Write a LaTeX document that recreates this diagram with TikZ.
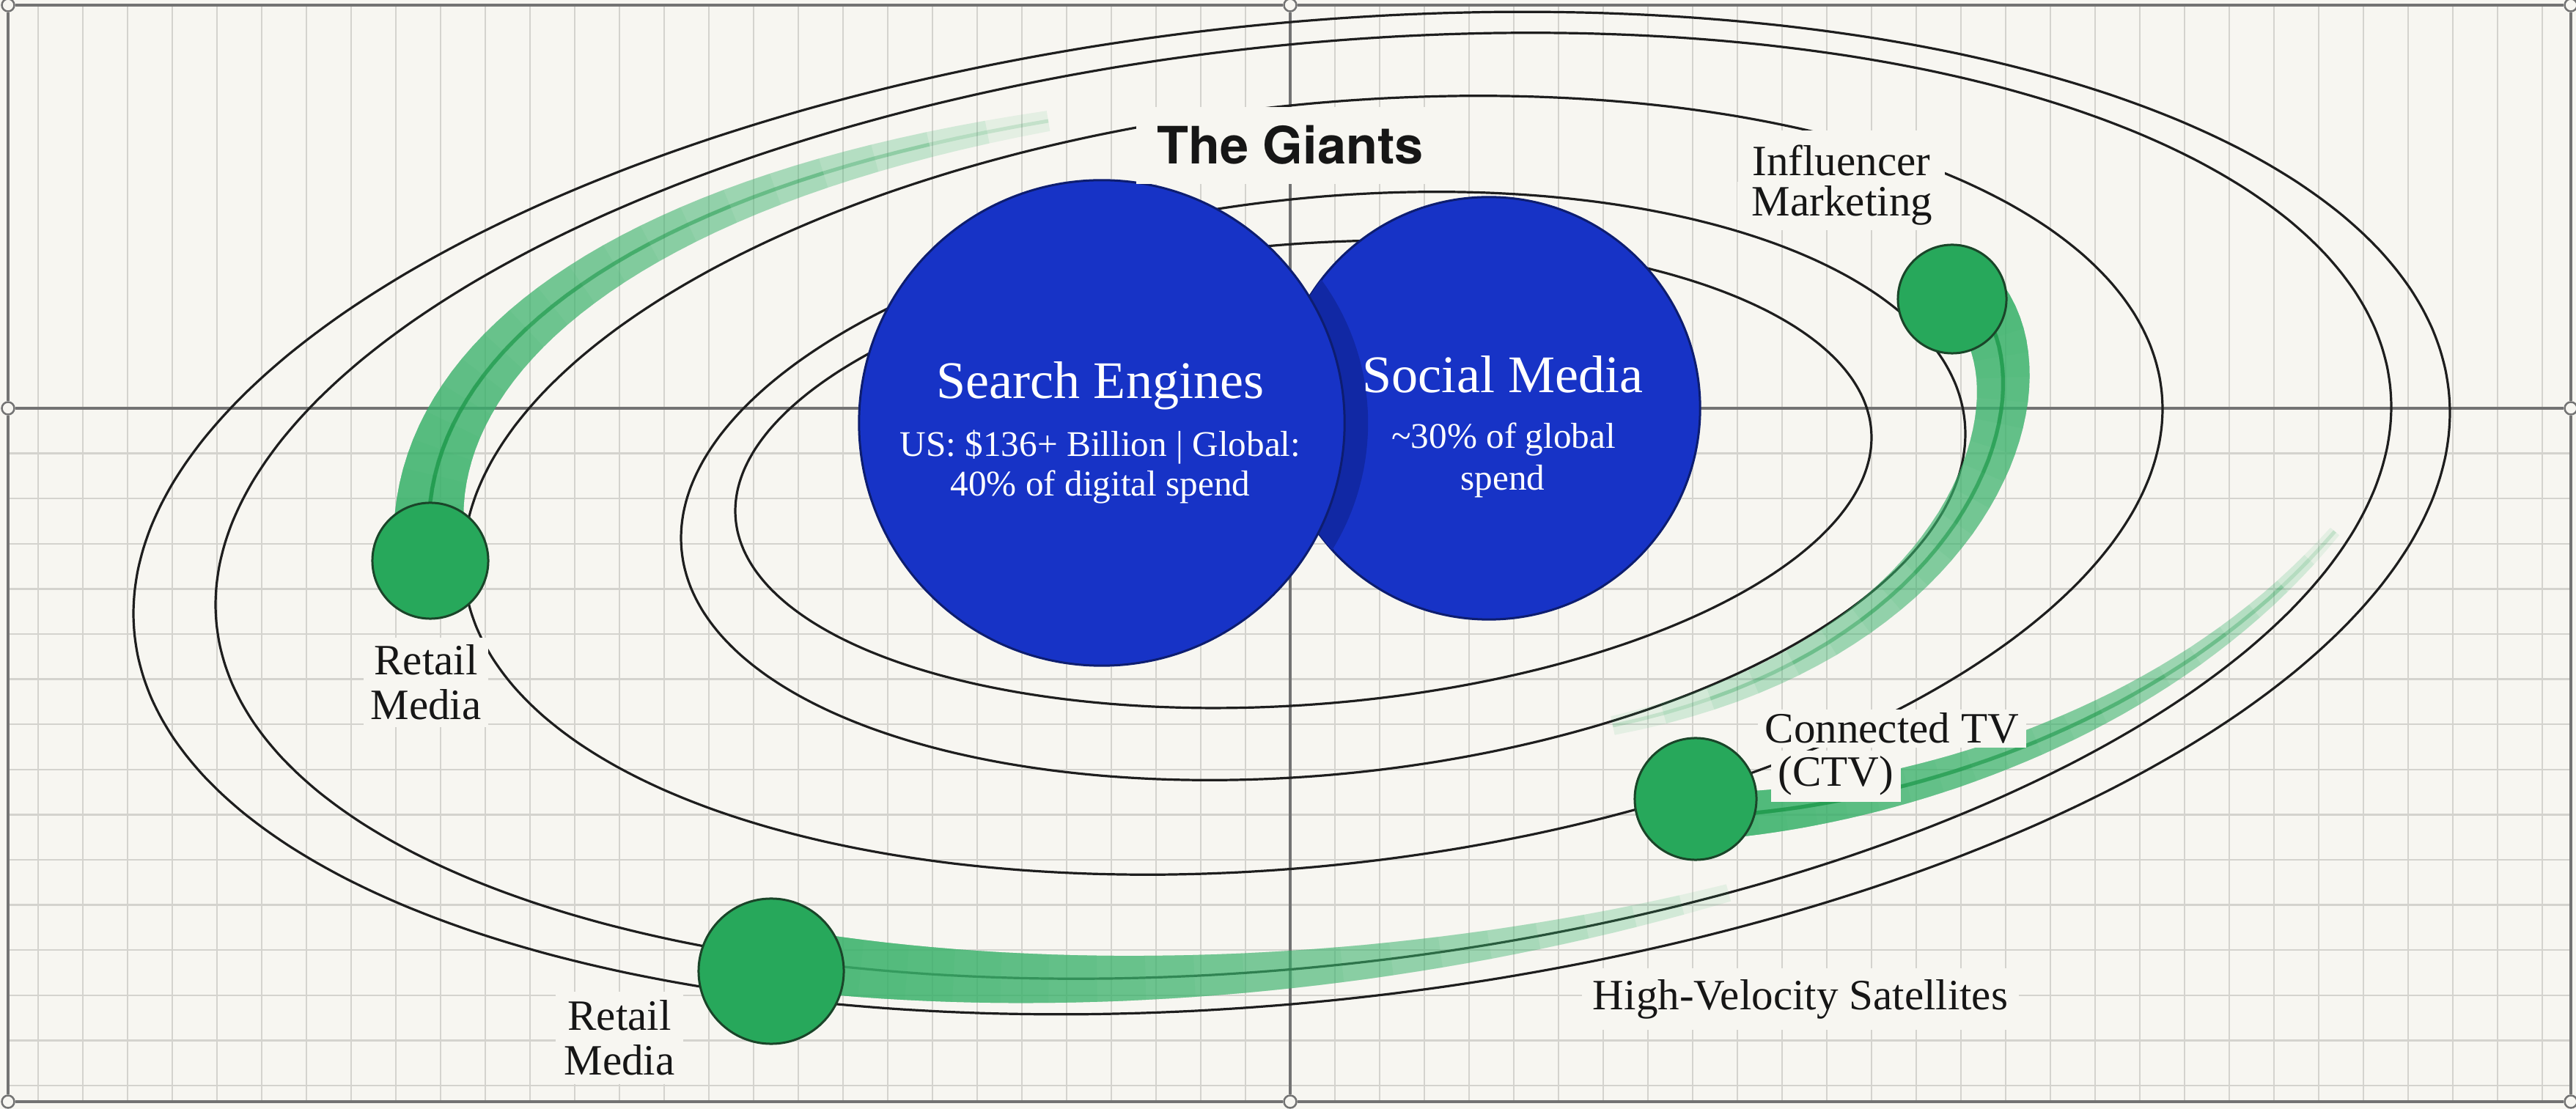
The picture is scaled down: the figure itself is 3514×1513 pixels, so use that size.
\documentclass[tikz,border=0pt]{standalone}
\usepackage{fontspec}
\setmainfont{Liberation Serif}
\newfontfamily\headsans{TeX Gyre Heros}
\usetikzlibrary{calc}

\definecolor{paper}{HTML}{F7F6F1}
\definecolor{gridgray}{HTML}{D4D3CE}
\definecolor{axisgray}{HTML}{737373}
\definecolor{orbitink}{HTML}{1E1E1E}
\definecolor{giantblue}{HTML}{1733C6}
\definecolor{giantedge}{HTML}{0D1D70}
\definecolor{giantshade}{HTML}{1128A4}
\definecolor{planetgreen}{HTML}{27A85B}
\definecolor{planetedge}{HTML}{1A4529}
\definecolor{trailgreen}{HTML}{3DB56E}
\definecolor{coregreen}{HTML}{1E9A4C}
\definecolor{labelink}{HTML}{161616}

% slanted ellipse: centre (#1,#2), half width #3, half height #4, shear #5
\newcommand\orbit[5]{%
  \draw[orbit] plot[smooth cycle, domain=0:357.5, samples=144, variable=\ang]
    ({#1+#3*cos(\ang)},{#2-#5*cos(\ang)+#4*sin(\ang)});}

% sample a cubic trail centre line and its two tapered edges
\newcommand\maketrail[9]{%
  \foreach \i in {0,...,40}{%
    \pgfmathsetmacro\tU{\i/40}%
    \pgfmathsetmacro\tO{1-\tU}%
    \pgfmathsetmacro\tBx{\tO*\tO*\tO*#2+3*\tO*\tO*\tU*#4+3*\tO*\tU*\tU*#6+\tU*\tU*\tU*#8}%
    \pgfmathsetmacro\tBy{\tO*\tO*\tO*#3+3*\tO*\tO*\tU*#5+3*\tO*\tU*\tU*#7+\tU*\tU*\tU*#9}%
    \pgfmathsetmacro\tDx{\tO*\tO*(#4-#2)+2*\tO*\tU*(#6-#4)+\tU*\tU*(#8-#6)}%
    \pgfmathsetmacro\tDy{\tO*\tO*(#5-#3)+2*\tO*\tU*(#7-#5)+\tU*\tU*(#9-#7)}%
    \pgfmathsetmacro\tNl{veclen(\tDx/100,\tDy/100)*100}%
    \pgfmathsetmacro\tHw{0.5*(\trailwa+(\trailwb-\trailwa)*\tU)}%
    \pgfmathsetmacro\tNx{-\tDy/\tNl*\tHw}%
    \pgfmathsetmacro\tNy{\tDx/\tNl*\tHw}%
    \coordinate (#1c\i) at (\tBx,\tBy);%
    \coordinate (#1u\i) at ({\tBx+(\tNx)},{\tBy+(\tNy)});%
    \coordinate (#1l\i) at ({\tBx-(\tNx)},{\tBy-(\tNy)});%
  }}

% stacked translucent layers: strong at the planet, fading along the trail
\newcommand\filltrail[1]{%
  \foreach \k in {1,...,20}{%
    \pgfmathtruncatemacro\tM{2*\k}%
    \fill[trailband] (#1u0) \foreach \i in {1,...,\tM}{ -- (#1u\i)}
      \foreach \i in {\tM,...,0}{ -- (#1l\i)} -- cycle;
  }}
\newcommand\coretrail[1]{%
  \foreach \k in {1,...,10}{%
    \pgfmathtruncatemacro\tM{4*\k}%
    \draw[trailcore] (#1c0) \foreach \i in {1,...,\tM}{ -- (#1c\i)};
  }}

\begin{document}
\begin{tikzpicture}[x=0.01cm, y=-0.01cm,
  gridline/.style={draw=gridgray, line width=0.025cm},
  axisline/.style={draw=axisgray, line width=0.045cm},
  orbit/.style={draw=orbitink, line width=0.032cm},
  trailband/.style={fill=trailgreen, fill opacity=0.1},
  trailcore/.style={draw=coregreen, line width=0.05cm, draw opacity=0.16, line join=round},
  giant/.style={circle, fill=giantblue, draw=giantedge, line width=0.03cm, inner sep=0pt},
  planet/.style={circle, fill=planetgreen, draw=planetedge, line width=0.03cm, inner sep=0pt},
  giantname/.style={text=white, font=\fontsize{20.5}{24}\selectfont, anchor=base, inner sep=0pt},
  giantfact/.style={text=white, font=\fontsize{14}{16}\selectfont, anchor=base, inner sep=0pt},
  tag/.style={text=labelink, fill=paper, font=\fontsize{16.8}{17.4}\selectfont, align=center, inner sep=0.1cm},
  tagtext/.style={text=labelink, fill=paper, font=\fontsize{16.8}{20}\selectfont, inner sep=0.1cm},
  handle/.style={circle, fill=paper, draw=axisgray, line width=0.025cm, minimum size=0.17cm, inner sep=0pt},
]
\useasboundingbox (0,0) rectangle (3514,1513);
\fill[paper] (0,0) rectangle (3514,1513);

% graph paper: vertical rules everywhere, horizontal rules in the lower half
\foreach \k in {0,...,56} \draw[gridline] ({52+61*\k},7) -- ({52+61*\k},1503);
\foreach \k in {1,...,15} \draw[gridline] (11,{557+61.6*\k}) -- (3507,{557+61.6*\k});

% frame handles, frame and axes
\foreach \nm/\px/\py in {hTL/11/7, hTM/1760/7, hTR/3507/7, hML/11/557, hMR/3507/557,
                         hBL/11/1503, hBM/1760/1503, hBR/3507/1503}
  \node[handle] (\nm) at (\px,\py) {};
\draw[axisline] (hTL) -- (hTM) -- (hTR) -- (hMR) -- (hBR) -- (hBM) -- (hBL) -- (hML) -- (hTL);
\draw[axisline] (hML) -- (hMR);
\draw[axisline] (hTM) -- (hBM);

% orbits, outermost first
\orbit{1762}{700}{1580}{670}{137}
\orbit{1778}{690}{1484}{631}{135}
\orbit{1791}{662}{1159}{521}{104}
\orbit{1805}{663}{876}{395}{71}
\orbit{1778}{647}{775}{315}{50}

% motion trails
\def\trailwa{95}\def\trailwb{28}
\maketrail{tA}{585}{720}{585}{480}{860}{260}{1430}{165}
\def\trailwa{84}\def\trailwb{26}
\maketrail{tB}{2700}{415}{2800}{545}{2680}{890}{2200}{990}
\def\trailwa{62}\def\trailwb{16}
\maketrail{tC}{2360}{1112}{2600}{1095}{2960}{990}{3185}{725}
\def\trailwa{84}\def\trailwb{24}
\maketrail{tD}{1052}{1306}{1452}{1366}{1935}{1333}{2358}{1218}
\filltrail{tA}\coretrail{tA}
\filltrail{tB}\coretrail{tB}
\filltrail{tC}\coretrail{tC}
\filltrail{tD}

% the giants
\node[giant, minimum size=5.76cm] (social) at (2031,557) {};
\begin{scope}
  \clip (2031,557) circle (2.88cm);
  \fill[giantshade] (1535,577) circle (3.31cm);
\end{scope}
\node[giant, minimum size=6.62cm] (search) at (1503,577) {};

\node[giantname] (seTitle) at (1501,544) {Search Engines};
\node[giantfact] (seFactA) at (1501,623) {US: \$136+ Billion | Global:};
\node[giantfact] (seFactB) at (1501,677) {40\% of digital spend};
\node[giantname] (smTitle) at (2050,536) {Social Media};
\node[giantfact] (smFactA) at (2051,612) {\textasciitilde30\% of global};
\node[giantfact] (smFactB) at (2050,669) {spend};

% satellites
\node[planet, minimum size=1.58cm] (rm1) at (587,765) {};
\node[planet, minimum size=1.98cm] (rm2) at (1052,1325) {};
\node[planet, minimum size=1.48cm] (infl) at (2663,408) {};
\node[planet, minimum size=1.66cm] (ctv) at (2313,1090) {};

% labels
\node[anchor=base, fill=paper, text=labelink, font=\headsans\bfseries\fontsize{20}{24}\selectfont,
      inner xsep=0.28cm, inner ysep=0.26cm] (giants) at (1760,224) {The Giants};
\node[tag] (rm1tag) at (581,931) {Retail\\Media};
\node[tag, inner sep=0.12cm] (rm2tag) at (845,1416) {Retail\\Media};
\node[tagtext, anchor=base, inner xsep=0.2cm, inner ysep=0.2cm] (inflTagA) at (2512,240) {Influencer};
\node[tagtext, anchor=base, inner xsep=0.2cm, inner ysep=0.06cm] (inflTagB) at (2513,295) {Marketing};
\node[tagtext, anchor=base west, inner ysep=0.05cm] (ctvTagA) at (2397,1014) {Connected TV};
\node[tagtext, anchor=base west, inner ysep=0.08cm] (ctvTagB) at (2415,1073) {(CTV)};
\node[tagtext, anchor=base, inner sep=0.15cm] (hvs) at (2456,1377) {High-Velocity Satellites};
\end{tikzpicture}
\end{document}
